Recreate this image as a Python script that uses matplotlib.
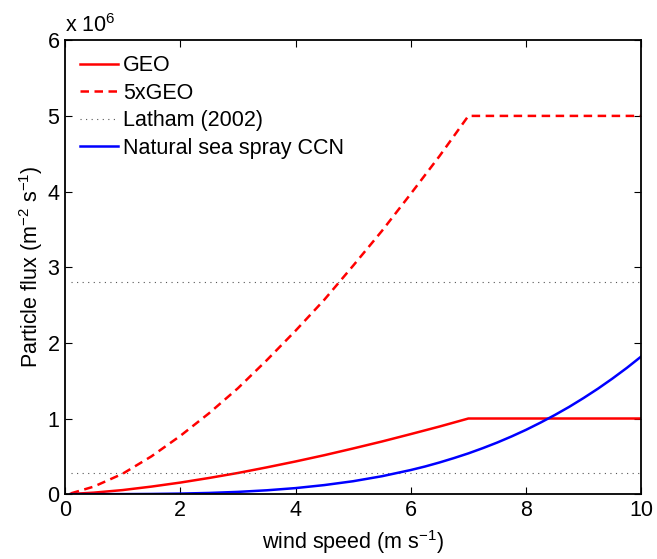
import matplotlib
matplotlib.use("Agg")
import matplotlib.pyplot as plt

plt.rcParams['font.family'] = ['Liberation Sans', 'DejaVu Sans']
plt.rcParams['mathtext.fontset'] = 'custom'
plt.rcParams['mathtext.rm'] = 'Liberation Sans'
plt.rcParams['mathtext.it'] = 'Liberation Sans:italic'

FS = 15.5

# wind speed (m/s) and fluxes in units of 1e6 m^-2 s^-1
wind = [0.1, 0.5, 1.0, 1.5, 2.0, 2.5, 3.0, 3.5, 4.0, 4.5, 5.0, 5.5, 6.0, 6.5, 7.0, 10.0]
geo = [0.002, 0.02, 0.054, 0.10, 0.153, 0.214, 0.28, 0.354, 0.432, 0.515,
       0.604, 0.696, 0.794, 0.894, 1.0, 1.0]
geo5 = [0.01, 0.10, 0.27, 0.50, 0.77, 1.07, 1.40, 1.77, 2.16, 2.57,
        3.02, 3.48, 3.97, 4.47, 5.0, 5.0]

wind_ss = [0.1, 0.5, 1.0, 1.5, 2.0, 2.5, 3.0, 3.5, 4.0, 4.5, 5.0, 5.5, 6.0,
           6.25, 6.5, 6.75, 7.0, 7.25, 7.5, 7.75, 8.0, 8.25, 8.5, 8.75,
           9.0, 9.25, 9.5, 9.75, 10.0]
sea_spray = [0.0, 0.0001, 0.0007, 0.0028, 0.0075, 0.016, 0.030, 0.051, 0.080,
             0.120, 0.171, 0.237, 0.319, 0.366, 0.419, 0.477, 0.539, 0.608,
             0.682, 0.763, 0.850, 0.945, 1.046, 1.154, 1.271, 1.395, 1.528,
             1.669, 1.82]

latham_range = [0.1, 10.0]
latham_low = 0.28
latham_high = 2.8

fig = plt.figure(figsize=(6.57, 5.59), dpi=100)
ax = fig.add_axes([0.099, 0.116, 0.877, 0.812])

ax.plot(wind, geo, color='red', lw=1.8, label='GEO')
ax.plot(wind, geo5, color='red', lw=1.8, dashes=(3.4, 2.2), label='5xGEO')
ax.plot(latham_range, [latham_low] * 2, color='#555555', lw=0.8, ls=(0, (1, 4)),
        label='Latham (2002)')
ax.plot(latham_range, [latham_high] * 2, color='#555555', lw=0.8, ls=(0, (1, 4)))
ax.plot(wind_ss, sea_spray, color='blue', lw=1.8, label='Natural sea spray CCN')

ax.set_xlim(0, 10)
ax.set_ylim(0, 6)
ax.set_xticks([0, 2, 4, 6, 8, 10])
ax.set_yticks([0, 1, 2, 3, 4, 5, 6])
ax.tick_params(direction='in', length=5, width=0.8, top=True, right=True,
               labelsize=FS, pad=4)
for s in ax.spines.values():
    s.set_linewidth(1.3)

ax.set_xlabel('wind speed (m s$^{-1}$)', fontsize=FS, labelpad=5)
ax.set_ylabel('Particle flux (m$^{-2}$ s$^{-1}$)', fontsize=FS, labelpad=2)
ax.text(0.0, 1.008, 'x 10$^6$', transform=ax.transAxes, fontsize=FS,
        ha='left', va='bottom')

ax.legend(loc='upper left', frameon=False, fontsize=FS, handlelength=1.75,
          handletextpad=0.25, labelspacing=0.3, borderaxespad=0.4,
          borderpad=0.3)

fig.savefig('out.png', dpi=100)
